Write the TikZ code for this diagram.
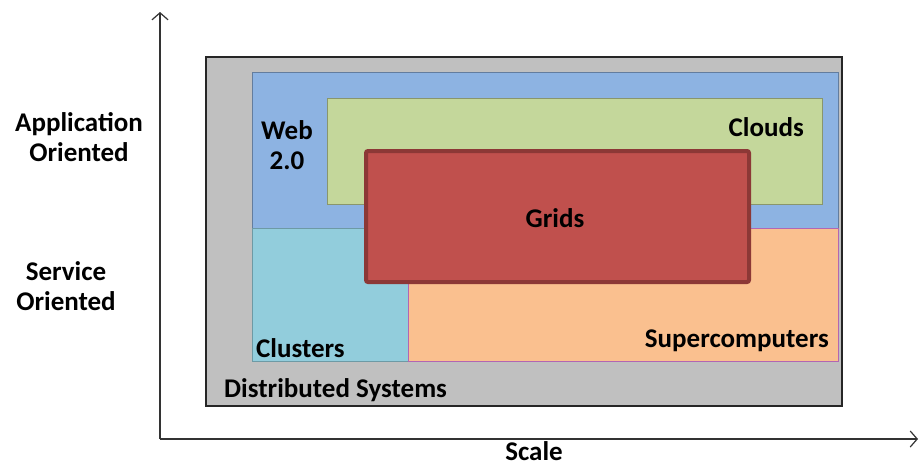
\documentclass[tikz,border=0pt]{standalone}
\usepackage{fontspec}
\setmainfont{Carlito}
\usetikzlibrary{arrows.meta}
\definecolor{dsgray}{HTML}{C0C0C0}
\definecolor{webblue}{HTML}{8DB3E2}
\definecolor{clustcyan}{HTML}{92CDDC}
\definecolor{superorange}{HTML}{FAC08F}
\definecolor{cloudgreen}{HTML}{C4D79B}
\definecolor{gridred}{HTML}{C0504D}
\definecolor{gridedge}{HTML}{8C3836}
\tikzset{
  x=1pt, y=-1pt,
  lbl/.style={font=\fontsize{27}{30}\selectfont\bfseries, text=black, inner sep=0pt, align=center},
  axis/.style={draw=black!80, line width=1.3pt, -{Straight Barb[length=7pt,width=16pt,line width=1.2pt]}},
  region/.style={line width=0.8pt},
}
\begin{document}
\begin{tikzpicture}
\useasboundingbox (0,0) rectangle (920,466);
% axes
\coordinate (origin) at (160,439);
\coordinate (ytop) at (160,12);
\coordinate (xend) at (918,439);
\draw[axis] (origin) -- (ytop);
\draw[axis] (origin) -- (xend);
% outer region
\draw[fill=dsgray, draw=black!85, line width=1.3pt] (206,57) rectangle (842,406);
% inner regions
\draw[region, fill=webblue, draw=webblue!70!black] (252,72) rectangle (838,228);
\draw[region, fill=clustcyan, draw=clustcyan!75!black] (252,228) rectangle (408,361);
\draw[region, fill=superorange, draw=violet!60] (408,228) rectangle (838,361);
\draw[region, fill=cloudgreen, draw=cloudgreen!70!black] (327,98) rectangle (822,204);
\draw[fill=gridred, draw=gridedge, line width=4pt, rounded corners=2pt] (366,151) rectangle (749,282);
% labels
\node[lbl] (app) at (79,137) {Application\\Oriented};
\node[lbl] (svc) at (66,286) {Service\\Oriented};
\node[lbl, anchor=base] (scale) at (534,460) {Scale};
\node[lbl, anchor=west] (ds) at (224,390) {Distributed Systems};
\node[lbl] (web) at (287,145) {Web\\2.0};
\node[lbl, anchor=east] (clouds) at (804,127) {Clouds};
\node[lbl] (grids) at (555,218) {Grids};
\node[lbl, anchor=west] (clusters) at (256,348) {Clusters};
\node[lbl, anchor=east] (super) at (829,341) {Supercomputers};
\end{tikzpicture}
\end{document}
